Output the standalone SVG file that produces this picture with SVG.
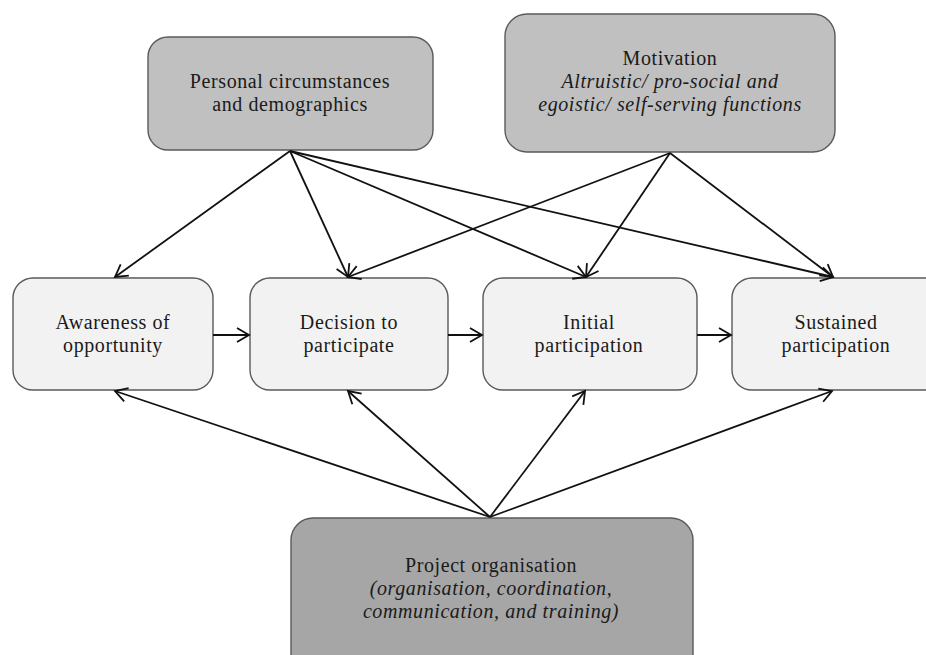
<svg xmlns="http://www.w3.org/2000/svg" width="926" height="655" viewBox="0 0 926 655">
<style>
.box{stroke:#5a5a5a;stroke-width:1.4}
.top{fill:#c0c0c0}
.bot{fill:#a6a6a6}
.mid{fill:#f2f2f2}
.t{font-family:'Liberation Serif','DejaVu Serif',serif;font-size:20px;letter-spacing:0.6px;fill:#1a1a1a;text-anchor:middle}
.it{font-style:italic}
.con line{stroke:#111;stroke-width:1.8;fill:none;marker-end:url(#ah)}
</style>
<defs>
<marker id="ah" markerUnits="userSpaceOnUse" markerWidth="20" markerHeight="20" refX="14" refY="10" orient="auto">
<path d="M2,3 L14,10 L2,17" fill="none" stroke="#111" stroke-width="1.8"/>
</marker>
</defs>
<rect width="926" height="655" fill="#fff"/>
<g id="personal">
<rect class="box top" x="148" y="37" width="285" height="113" rx="20"/>
<text class="t" font-family="Liberation Serif, serif" x="290" y="88">Personal circumstances</text>
<text class="t" font-family="Liberation Serif, serif" x="290" y="111">and demographics</text>
</g>
<g id="motivation">
<rect class="box top" x="505" y="14" width="330" height="138" rx="22"/>
<text class="t" font-family="Liberation Serif, serif" x="670" y="65">Motivation</text>
<text class="t it" font-family="Liberation Serif, serif" x="670" y="88">Altruistic/ pro-social and</text>
<text class="t it" font-family="Liberation Serif, serif" x="670" y="111">egoistic/ self-serving functions</text>
</g>
<g id="awareness">
<rect class="box mid" x="13" y="278" width="200" height="112" rx="20"/>
<text class="t" font-family="Liberation Serif, serif" x="113" y="329">Awareness of</text>
<text class="t" font-family="Liberation Serif, serif" x="113" y="352">opportunity</text>
</g>
<g id="decision">
<rect class="box mid" x="250" y="278" width="198" height="112" rx="20"/>
<text class="t" font-family="Liberation Serif, serif" x="349" y="329">Decision to</text>
<text class="t" font-family="Liberation Serif, serif" x="349" y="352">participate</text>
</g>
<g id="initial">
<rect class="box mid" x="483" y="278" width="214" height="112" rx="20"/>
<text class="t" font-family="Liberation Serif, serif" x="589" y="329">Initial</text>
<text class="t" font-family="Liberation Serif, serif" x="589" y="352">participation</text>
</g>
<g id="sustained">
<rect class="box mid" x="732" y="278" width="220" height="112" rx="20"/>
<text class="t" font-family="Liberation Serif, serif" x="836" y="329">Sustained</text>
<text class="t" font-family="Liberation Serif, serif" x="836" y="352">participation</text>
</g>
<g id="project">
<rect class="box bot" x="291" y="518" width="402" height="160" rx="22"/>
<text class="t" font-family="Liberation Serif, serif" x="491" y="572">Project organisation</text>
<text class="t it" font-family="Liberation Serif, serif" x="491" y="595">(organisation, coordination,</text>
<text class="t it" font-family="Liberation Serif, serif" x="491" y="618">communication, and training)</text>
</g>
<g class="con" id="connectors">
<line x1="290" y1="151" x2="115" y2="277"/>
<line x1="290" y1="151" x2="348" y2="277"/>
<line x1="290" y1="151" x2="586" y2="277"/>
<line x1="290" y1="151" x2="833" y2="277"/>
<line x1="670" y1="153" x2="348" y2="277"/>
<line x1="670" y1="153" x2="586" y2="277"/>
<line x1="670" y1="153" x2="833" y2="277"/>
<line x1="213" y1="335" x2="249" y2="335"/>
<line x1="448" y1="335" x2="482" y2="335"/>
<line x1="697" y1="335" x2="731" y2="335"/>
<line x1="490" y1="517" x2="115" y2="391"/>
<line x1="490" y1="517" x2="348" y2="391"/>
<line x1="490" y1="517" x2="585" y2="391"/>
<line x1="490" y1="517" x2="832" y2="391"/>
</g>
</svg>
